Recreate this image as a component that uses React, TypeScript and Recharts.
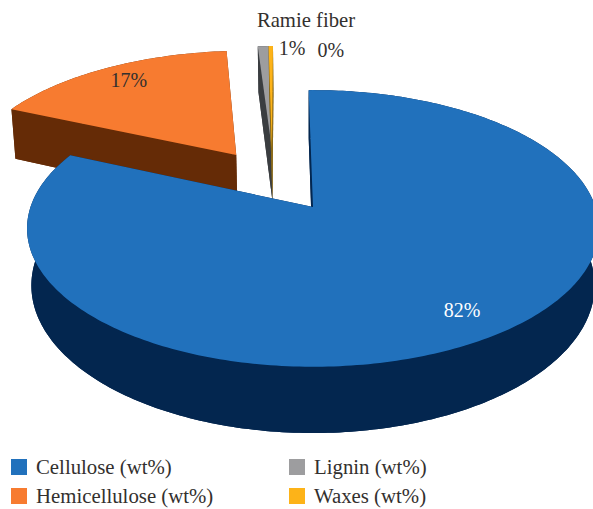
import { PieChart, Pie } from "recharts"

const categories = ["Hemicellulose (wt%)", "Lignin (wt%)", "Waxes (wt%)", "Cellulose (wt%)"]
const values = [17, 0.75, 0.3, 81.95]
const legendRows = [
  ["Cellulose (wt%)", "Lignin (wt%)"],
  ["Hemicellulose (wt%)", "Waxes (wt%)"],
]

const topColors: Record<string, string> = {
  "Cellulose (wt%)": "#2171bc",
  "Hemicellulose (wt%)": "#f77b30",
  "Lignin (wt%)": "#9d9d9f",
  "Waxes (wt%)": "#fdb318",
}
const wallColors: Record<string, string> = {
  "Cellulose (wt%)": "#03264f",
  "Hemicellulose (wt%)": "#652b06",
  "Lignin (wt%)": "#3a3d40",
  "Waxes (wt%)": "#8a6a1a",
}
// how far each slice is pulled out of the pie, in disc units
const explode: Record<string, [number, number]> = {
  "Cellulose (wt%)": [0, 0],
  "Hemicellulose (wt%)": [-0.289, -0.41],
  "Lignin (wt%)": [-0.156, -0.463],
  "Waxes (wt%)": [-0.156, -0.463],
}

const data = categories.map((name, i) => ({ name, value: values[i] }))

const FONT = '"Liberation Serif", serif'
const TEXT = "#33302e"

// perspective view of the disc, h = 1 is the bottom plane
function project(u: number, v: number, h = 0): [number, number] {
  const w = 1 - 0.155 * v
  const x = 313 + (282.5 * u) / (w + 0.015 * h)
  const y = 207 + (135 * v + 56 * h) / w
  return [x, y]
}

function rim(startAngle: number, endAngle: number, off: [number, number], h: number) {
  const steps = Math.max(2, Math.ceil(Math.abs(endAngle - startAngle)))
  const pts: [number, number][] = []
  for (let i = 0; i <= steps; i++) {
    const a = ((startAngle + ((endAngle - startAngle) * i) / steps) * Math.PI) / 180
    pts.push(project(off[0] + Math.cos(a), off[1] - Math.sin(a), h))
  }
  return pts
}

const toPath = (pts: [number, number][]) =>
  "M" + pts.map((p) => p[0].toFixed(2) + " " + p[1].toFixed(2)).join("L") + "Z"

function Slice3D(props: any) {
  const { startAngle, endAngle, name } = props
  const off = explode[name]
  const top = rim(startAngle, endAngle, off, 0)
  const bottom = rim(startAngle, endAngle, off, 1)
  const apexTop = project(off[0], off[1], 0)
  const apexBottom = project(off[0], off[1], 1)
  const wall = wallColors[name]
  return (
    <g>
      <path d={toPath([apexBottom, ...bottom])} fill={wall} />
      <path d={toPath([...top, ...bottom.slice().reverse()])} fill={wall} />
      <path d={toPath([apexTop, top[0], bottom[0], apexBottom])} fill={wall} />
      <path
        d={toPath([apexTop, top[top.length - 1], bottom[bottom.length - 1], apexBottom])}
        fill={wall}
      />
      <path d={toPath([apexTop, ...top])} fill={topColors[name]} />
    </g>
  )
}

// nudges for the labels; the two thin slices have theirs pulled out to the right of the pie top
const labelShift: Record<string, [number, number]> = {
  "Cellulose (wt%)": [4, -2],
  "Hemicellulose (wt%)": [2, -1],
  "Lignin (wt%)": [29, 2],
  "Waxes (wt%)": [60, 4],
}
const outsideLabels = ["Lignin (wt%)", "Waxes (wt%)"]

function renderLabel(props: any) {
  const { name, midAngle, value } = props
  const off = explode[name]
  const shift = labelShift[name]
  const r = outsideLabels.includes(name) ? 1 : 0.83
  const a = (midAngle * Math.PI) / 180
  const [x, y] = project(off[0] + r * Math.cos(a), off[1] - r * Math.sin(a))
  return (
    <text
      x={x + shift[0]}
      y={y + shift[1]}
      textAnchor="middle"
      dominantBaseline="central"
      fontFamily={FONT}
      fontSize={20}
      fill={name === "Cellulose (wt%)" ? "#ffffff" : TEXT}
    >
      {Math.round(value) + "%"}
    </text>
  )
}

export default function App() {
  return (
    <div style={{ position: "absolute", left: 0, top: 0, width: 593, height: 509, background: "#fff", overflow: "hidden" }}>
      <PieChart width={593} height={509} style={{ position: "absolute", left: 0, top: 0 }}>
        <Pie
          data={data}
          dataKey="value"
          nameKey="name"
          cx={313}
          cy={207}
          outerRadius={200}
          startAngle={156}
          endAngle={-204}
          shape={Slice3D}
          label={renderLabel}
          labelLine={false}
          isAnimationActive={false}
        />
      </PieChart>
      <div style={{ position: "absolute", left: 206, width: 200, top: 8, textAlign: "center", fontFamily: FONT, fontSize: 20.7, color: TEXT, lineHeight: "24px" }}>
        Ramie fiber
      </div>
      {legendRows.map((row, r) =>
        row.map((name, c) => (
          <div key={name} style={{ position: "absolute", left: c === 0 ? 11 : 289, top: 454 + r * 29, height: 26, display: "flex", alignItems: "center", fontFamily: FONT, fontSize: 20.8, color: TEXT }}>
            <span style={{ width: 16, height: 16, background: topColors[name], marginRight: 9 }} />
            {name}
          </div>
        ))
      )}
    </div>
  )
}
